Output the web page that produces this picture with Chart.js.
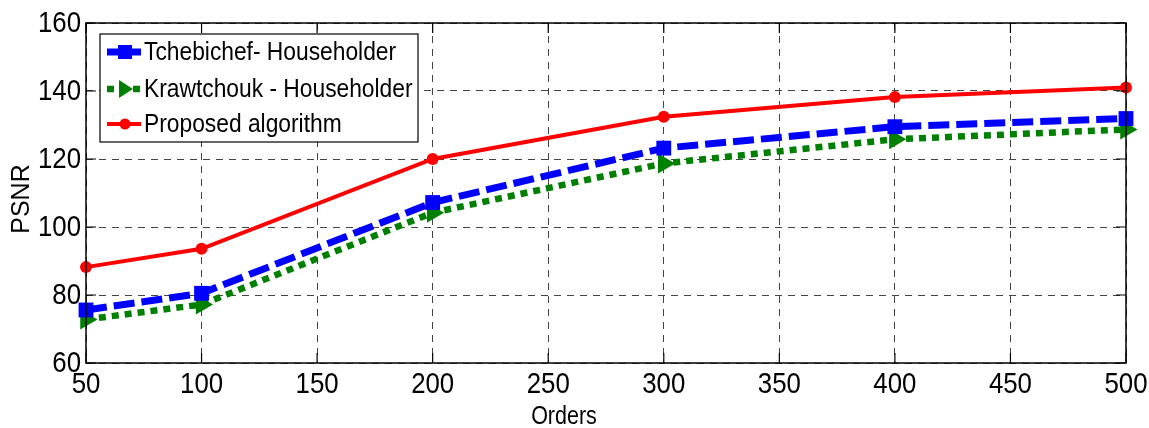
<!DOCTYPE html>
<html>
<head>
<meta charset="utf-8">
<script src="https://cdn.jsdelivr.net/npm/chart.js@4.4.1/dist/chart.umd.min.js"></script>
<style>
html, body { margin: 0; padding: 0; background: #fff; }
#wrap { width: 1149px; height: 428px; }
</style>
</head>
<body>
<div id="wrap"><canvas id="psnr-chart" width="1149" height="428"></canvas></div>
<script>
// orders on x axis
var orders = [50, 100, 200, 300, 400, 500];
var tchebichef = [75.6, 80.5, 107.2, 123.2, 129.5, 131.9];
var krawtchouk = [72.8, 77.2, 104.2, 118.7, 125.8, 128.7];
var proposed = [88.2, 93.6, 120, 132.4, 138.2, 141];

var seriesNames = ['Tchebichef- Householder', 'Krawtchouk - Householder', 'Proposed algorithm'];
var yTicks = [60, 80, 100, 120, 140, 160];
var xTicks = [50, 100, 150, 200, 250, 300, 350, 400, 450, 500];

function pts(vals) {
	return orders.map(function(o, i) { return {x: o, y: vals[i]}; });
}

var FONT = '"Liberation Sans", Arial, sans-serif';
var SQ = 0.86; // the figure's text is a bit condensed

function narrowText(c, txt, x, y, align) {
	c.save();
	c.translate(x, y);
	c.scale(SQ, 1);
	c.textAlign = align;
	c.fillText(txt, 0, 0);
	c.restore();
}

// frame, tick labels, titles and the legend box
var extras = {
	id: 'extras',
	afterDraw: function(chart) {
		var c = chart.ctx, a = chart.chartArea;
		var xs = chart.scales.x, ys = chart.scales.y;
		c.save();
		c.strokeStyle = '#000';
		c.lineWidth = 1.5;
		c.strokeRect(a.left, a.top, a.right - a.left, a.bottom - a.top);
		c.lineWidth = 1.2;
		c.fillStyle = '#000';
		c.font = '30px ' + FONT;
		c.textBaseline = 'middle';
		yTicks.forEach(function(v) {
			var y = ys.getPixelForValue(v);
			c.beginPath();
			c.moveTo(a.left, y); c.lineTo(a.left + 10, y);
			c.moveTo(a.right, y); c.lineTo(a.right - 10, y);
			c.stroke();
			narrowText(c, String(v), a.left - 5, y + 1, 'right');
		});
		xTicks.forEach(function(v) {
			var x = xs.getPixelForValue(v);
			c.beginPath();
			c.moveTo(x, a.bottom); c.lineTo(x, a.bottom - 10);
			c.moveTo(x, a.top); c.lineTo(x, a.top + 10);
			c.stroke();
			narrowText(c, String(v), x, a.bottom + 22, 'center');
		});

		// axis titles
		c.font = '25px ' + FONT;
		narrowText(c, 'Orders', 564, 417, 'center');
		c.save();
		c.translate(22, 199);
		c.rotate(-Math.PI / 2);
		c.textAlign = 'center';
		c.font = '25px ' + FONT;
		c.fillText('PSNR', 0, 0);
		c.restore();

		// legend
		var lx = 100, ly = 34, lw = 318, lh = 108;
		c.fillStyle = '#fff';
		c.fillRect(lx, ly, lw, lh);
		c.strokeStyle = '#000';
		c.lineWidth = 1.2;
		c.strokeRect(lx, ly, lw, lh);
		var rows = [52, 89, 124];
		chart.data.datasets.forEach(function(ds, i) {
			var y = rows[i];
			c.save();
			c.strokeStyle = ds.borderColor;
			c.lineWidth = ds.borderWidth;
			c.setLineDash(i == 0 ? [20, 5] : (ds.borderDash || []));
			c.beginPath();
			c.moveTo(107, y); c.lineTo(141, y);
			c.stroke();
			c.setLineDash([]);
			c.fillStyle = ds.pointBackgroundColor;
			var mx = 125;
			if (i == 0) {
				c.fillRect(mx - 7, y - 7, 14, 14);
			} else if (i == 1) {
				c.beginPath();
				c.moveTo(mx - 6, y - 9); c.lineTo(mx + 8, y); c.lineTo(mx - 6, y + 9);
				c.closePath(); c.fill();
			} else {
				c.beginPath();
				c.arc(mx, y, 5.5, 0, Math.PI * 2); c.fill();
			}
			c.restore();
			c.fillStyle = '#000';
			c.font = '26.5px ' + FONT;
			narrowText(c, seriesNames[i], 144, y + 1, 'left');
		});
		c.restore();
	}
};

var ctx = document.getElementById('psnr-chart');

var psnrChart = new Chart(ctx, {
	type: 'line',
	data: {
		datasets: [
			{
				label: seriesNames[0],
				data: pts(tchebichef),
				borderColor: '#0000ff',
				borderWidth: 7,
				borderDash: [21, 7],
				pointStyle: 'rect',
				pointRadius: 10.5,
				pointBackgroundColor: '#0000ff',
				pointBorderColor: '#0000ff',
				pointBorderWidth: 0,
				clip: false,
				tension: 0
			},
			{
				label: seriesNames[1],
				data: pts(krawtchouk),
				borderColor: '#008000',
				borderWidth: 6.5,
				borderDash: [7, 6],
				pointStyle: 'triangle',
				pointRotation: 90,
				pointRadius: 11.5,
				pointBackgroundColor: '#008000',
				pointBorderColor: '#008000',
				pointBorderWidth: 0,
				clip: false,
				tension: 0
			},
			{
				label: seriesNames[2],
				data: pts(proposed),
				borderColor: '#ff0000',
				borderWidth: 4,
				pointStyle: 'circle',
				pointRadius: 6,
				pointBackgroundColor: '#ff0000',
				pointBorderColor: '#ff0000',
				pointBorderWidth: 0,
				clip: false,
				tension: 0
			}
		]
	},
	options: {
		responsive: false,
		animation: false,
		layout: { padding: { top: 23, right: 23, left: 0, bottom: 0 } },
		plugins: { legend: { display: false }, tooltip: { enabled: false } },
		scales: {
			x: {
				type: 'linear',
				min: 50, max: 500,
				afterBuildTicks: function(s) { s.ticks = xTicks.map(function(v) { return {value: v}; }); },
				afterFit: function(s) { s.height = 65; s.paddingLeft = 0; s.paddingRight = 0; },
				grid: { color: '#444', lineWidth: 1, drawTicks: false },
				border: { display: false, dash: [7, 6] },
				ticks: { display: false }
			},
			y: {
				min: 60, max: 160,
				afterBuildTicks: function(s) { s.ticks = yTicks.map(function(v) { return {value: v}; }); },
				afterFit: function(s) { s.width = 86; s.paddingTop = 0; s.paddingBottom = 0; },
				grid: { color: '#444', lineWidth: 1, drawTicks: false },
				border: { display: false, dash: [7, 6] },
				ticks: { display: false }
			}
		}
	},
	plugins: [extras]
});
</script>
</body>
</html>
